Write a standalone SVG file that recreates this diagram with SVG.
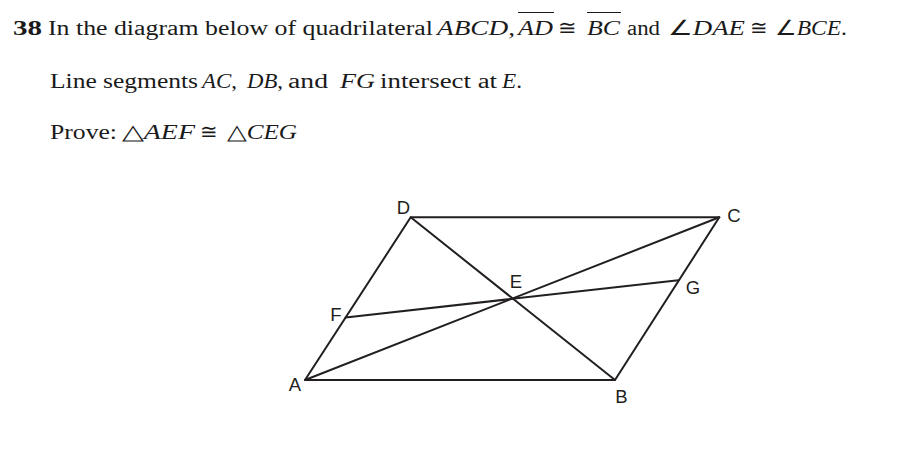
<svg xmlns="http://www.w3.org/2000/svg" width="902" height="458" viewBox="0 0 902 458">
<style>
.t{font-family:"Liberation Serif","Times New Roman",serif;font-size:20.5px;fill:#1a1a1a}
.i{font-style:italic}
.b{font-weight:bold}
.lbl{font-family:"Liberation Sans",Arial,sans-serif;font-size:18.5px;fill:#231f20;text-anchor:middle}
.seg{stroke:#231f20;stroke-width:2;fill:none;stroke-linecap:round;stroke-linejoin:round}
.ol{stroke:#1a1a1a;stroke-width:1.2}
</style>
<rect width="902" height="458" fill="#ffffff"/>
<g id="header">
<text class="t b" x="13" y="34.5" textLength="29" lengthAdjust="spacingAndGlyphs">38</text>
<text class="t" x="48" y="34.5" textLength="385" lengthAdjust="spacingAndGlyphs">In the diagram below of quadrilateral</text>
<text class="t i" x="437" y="34.5" textLength="78" lengthAdjust="spacingAndGlyphs">ABCD,</text>
<text class="t i" x="518" y="34.5" textLength="35" lengthAdjust="spacingAndGlyphs">AD</text>
<line class="ol" x1="518" y1="12.5" x2="554" y2="12.5"/>
<text class="t" x="558" y="34.5" textLength="19" lengthAdjust="spacingAndGlyphs">≅</text>
<text class="t i" x="587" y="34.5" textLength="33" lengthAdjust="spacingAndGlyphs">BC</text>
<line class="ol" x1="587" y1="12.5" x2="621" y2="12.5"/>
<text class="t" x="627" y="34.5" textLength="33" lengthAdjust="spacingAndGlyphs">and</text>
<text class="t" x="668" y="34.5" textLength="77" lengthAdjust="spacingAndGlyphs">∠<tspan class="i">DAE</tspan></text>
<text class="t" x="750" y="34.5" textLength="18" lengthAdjust="spacingAndGlyphs">≅</text>
<text class="t" x="775" y="34.5" textLength="72" lengthAdjust="spacingAndGlyphs">∠<tspan class="i">BCE</tspan>.</text>
</g>
<g id="line2">
<text class="t" x="50" y="88" textLength="148" lengthAdjust="spacingAndGlyphs">Line segments</text>
<text class="t" x="202" y="88" textLength="35" lengthAdjust="spacingAndGlyphs"><tspan class="i">AC</tspan>,</text>
<text class="t" x="247" y="88" textLength="36" lengthAdjust="spacingAndGlyphs"><tspan class="i">DB</tspan>,</text>
<text class="t" x="288" y="88" textLength="40" lengthAdjust="spacingAndGlyphs">and</text>
<text class="t i" x="340" y="88" textLength="35" lengthAdjust="spacingAndGlyphs">FG</text>
<text class="t" x="380" y="88" textLength="117" lengthAdjust="spacingAndGlyphs">intersect at</text>
<text class="t" x="502" y="88" textLength="20" lengthAdjust="spacingAndGlyphs"><tspan class="i">E</tspan>.</text>
</g>
<g id="line3">
<text class="t" x="50" y="138.5" textLength="67" lengthAdjust="spacingAndGlyphs">Prove:</text>
<text class="t" x="122" y="138.5" textLength="73" lengthAdjust="spacingAndGlyphs">△<tspan class="i">AEF</tspan></text>
<text class="t" x="200" y="138.5" textLength="18" lengthAdjust="spacingAndGlyphs">≅</text>
<text class="t" x="227" y="138.5" textLength="70" lengthAdjust="spacingAndGlyphs">△<tspan class="i">CEG</tspan></text>
</g>
<g id="connectors">
<polygon class="seg" points="305,380 615,380 719.3,217.3 410.7,217.3"/>
<line class="seg" x1="305" y1="380" x2="719.3" y2="217.3"/>
<line class="seg" x1="410.7" y1="217.3" x2="615" y2="380"/>
<line class="seg" x1="345.6" y1="317.6" x2="678.4" y2="280.2"/>
</g>
<g id="node-A"><text class="lbl" x="295" y="391">A</text></g>
<g id="node-B"><text class="lbl" x="621.5" y="403">B</text></g>
<g id="node-C"><text class="lbl" x="734" y="222">C</text></g>
<g id="node-D"><text class="lbl" x="403.5" y="214">D</text></g>
<g id="node-E"><text class="lbl" x="516" y="288">E</text></g>
<g id="node-F"><text class="lbl" x="336" y="321">F</text></g>
<g id="node-G"><text class="lbl" x="693" y="294">G</text></g>
</svg>
